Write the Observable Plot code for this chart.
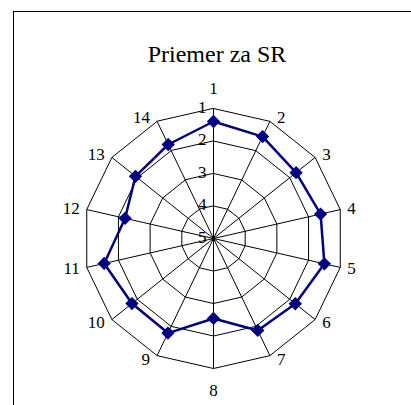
<!DOCTYPE html>
<html>
<head>
<meta charset="utf-8">
<script src="https://cdn.jsdelivr.net/npm/d3@7"></script>
<script src="https://cdn.jsdelivr.net/npm/@observablehq/plot@0.6"></script>
<style>
  html, body { margin: 0; padding: 0; background: #fff; overflow: hidden; }
  #wrap { position: relative; width: 411px; height: 405px; overflow: hidden; }
  #frame { position: absolute; left: 13px; top: 11px; width: 600px; height: 600px; border: 1px solid #000; box-sizing: border-box; }
  #title { position: absolute; left: 13px; width: 408px; top: 42px; line-height: 24px; text-align: center;
           font-family: "Liberation Serif", "Times New Roman", serif; font-size: 24px; color: #000; }
  #chart { position: absolute; left: 0; top: 0; }
</style>
</head>
<body>
<div id="wrap">
  <div id="frame"></div>
  <div id="title">Priemer za SR</div>
  <div id="chart"></div>
</div>
<script>
// ---- data ----
const title = "Priemer za SR";
const axisLabels = ["1","2","3","4","5","6","7","8","9","10","11","12","13","14"];
const values = [1.40, 1.52, 1.75, 1.62, 1.50, 1.78, 1.86, 2.54, 1.77, 1.79, 1.55, 2.21, 1.93, 1.79];
const ringValues = [1, 2, 3, 4, 5];
const ringLabels = ["1", "2", "3", "4", "5"];

// ---- layout ----
const W = 411, H = 405;
const cx = 213, cy = 238, unit = 32.5;   // center and pixels per scale unit
const vOuter = 1, vCenter = 5;           // reversed radial axis
const n = axisLabels.length;
const ang = i => i * 2 * Math.PI / n;
const rad = v => vCenter - v;
const pt = (i, v) => ({ x: rad(v) * Math.sin(ang(i)), y: rad(v) * Math.cos(ang(i)) });

const rings = ringValues.filter(v => v !== vCenter)
  .flatMap(v => axisLabels.map((_, i) => ({ ring: v, ...pt(i, v) })));
const spokes = axisLabels.map((_, i) => { const p = pt(i, vOuter); return { x1: 0, y1: 0, x2: p.x, y2: p.y }; });
const series = values.map((v, i) => ({ label: axisLabels[i], value: v, ...pt(i, v) }));

const labelRows = axisLabels.map((lab, i) => {
  const p = pt(i, vOuter);
  const s = Math.sin(ang(i)), c = Math.cos(ang(i));
  let dx, dy, anchor;
  if (Math.abs(s) < 1e-6) { dx = 0; dy = c > 0 ? -20 : 22; anchor = "middle"; }
  else { dx = 7 * Math.sign(s); dy = -4 * c; anchor = s > 0 ? "start" : "end"; }
  return { label: lab, x: p.x + dx / unit, y: p.y - dy / unit, anchor };
});

const font = "Liberation Serif, Times New Roman, serif";
const textOpts = { fontFamily: font, fontSize: 17, fill: "#000" };

const chart = Plot.plot({
  width: W, height: H,
  marginTop: 0, marginRight: 0, marginBottom: 0, marginLeft: 0,
  x: { domain: [-cx / unit, (W - cx) / unit], axis: null },
  y: { domain: [-(H - cy) / unit, cy / unit], axis: null },
  style: { background: "transparent", overflow: "visible" },
  marks: [
    Plot.line(rings, { x: "x", y: "y", z: "ring", curve: "linear-closed", stroke: "#000", strokeWidth: 1 }),
    Plot.link(spokes, { x1: "x1", y1: "y1", x2: "x2", y2: "y2", stroke: "#000", strokeWidth: 1 }),
    Plot.text(ringValues, { x: () => -7 / unit, y: v => rad(v) + 1 / unit, text: (v, i) => ringLabels[i], textAnchor: "end", ...textOpts }),
    Plot.line(series, { x: "x", y: "y", curve: "linear-closed", stroke: "#000080", strokeWidth: 2.5 }),
    Plot.dot(series, { x: "x", y: "y", symbol: "diamond2", r: 6, fill: "#000080", stroke: "none" }),
    Plot.text(labelRows.filter(d => d.anchor === "middle"), { x: "x", y: "y", text: "label", textAnchor: "middle", ...textOpts }),
    Plot.text(labelRows.filter(d => d.anchor === "start"), { x: "x", y: "y", text: "label", textAnchor: "start", ...textOpts }),
    Plot.text(labelRows.filter(d => d.anchor === "end"), { x: "x", y: "y", text: "label", textAnchor: "end", ...textOpts })
  ]
});
document.getElementById("chart").appendChild(chart);
</script>
</body>
</html>
